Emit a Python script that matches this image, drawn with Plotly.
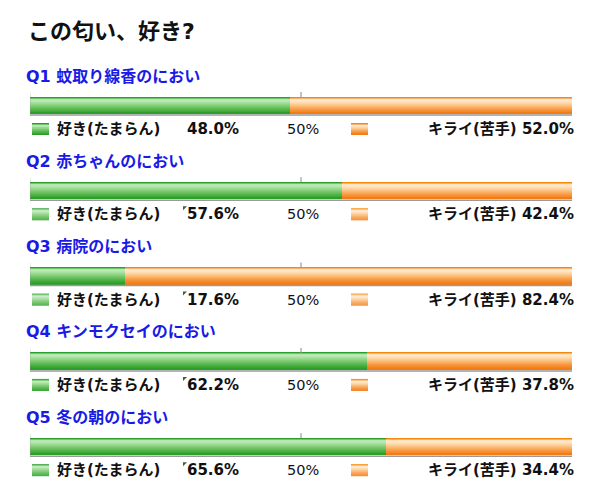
import plotly.graph_objects as go

# ---- data ----
chart_title = "この匂い、好き?"
questions = ["Q1 蚊取り線香のにおい", "Q2 赤ちゃんのにおい", "Q3 病院のにおい",
             "Q4 キンモクセイのにおい", "Q5 冬の朝のにおい"]
like = [48.0, 57.6, 17.6, 62.2, 65.6]
dislike = [52.0, 42.4, 82.4, 37.8, 34.4]
like_label = "好き(たまらん)"
dislike_label = "キライ(苦手)"
mid_tick_label = "50%"

# ---- layout constants (pixels) ----
W, H = 600, 504
X0, X1 = 30, 572          # pixel extent of the 0..100 scale
STEP = 85.3
BAR_C0 = 105              # center of first bar
BAR_H = 17
LABEL_Y0 = 76
LEGEND_Y0 = 129

FONT = "DejaVu Sans, Noto Sans CJK JP, sans-serif"

# vertical gradient profiles (top -> bottom), one colour per pixel row
green_prof = ["#2c9e2c", "#6ac866", "#b4e6ae", "#bde9b7", "#b4e5ad", "#a8e0a0", "#9cda93",
              "#90d486", "#84ce7a", "#78c86e", "#6cc262", "#60bc56", "#54b64a", "#4ab040",
              "#40aa38", "#36a430", "#2c9e2c"]
orange_prof = ["#f58a0a", "#fbb266", "#ffe3c2", "#ffe8cc", "#ffe3c0", "#ffdcb2", "#fed4a2",
               "#fdcb92", "#fcc282", "#fbb872", "#faae62", "#f9a452", "#f89a44", "#f79136",
               "#f6892a", "#f5821e", "#f47c14"]

n = len(questions)
centers = [BAR_C0 + STEP * i for i in range(n)]

fig = go.Figure()
for vals, bases, prof in ((like, [0] * n, green_prof), (dislike, like, orange_prof)):
    for r, col in enumerate(prof):
        fig.add_trace(go.Bar(orientation="h", y=centers, x=vals, base=bases,
                             offset=-BAR_H / 2 + r, width=BAR_H - r,
                             marker=dict(color=col, line=dict(width=0)),
                             hoverinfo="skip", showlegend=False))

shapes = []
annotations = []
frame_col = "#9a9a9a"

annotations.append(dict(text=f"<b>{chart_title}</b>", x=26 / W, xref="paper", y=31, yref="y",
                        xanchor="left", yanchor="middle", showarrow=False,
                        font=dict(family=FONT, size=22, color="#111111")))

for i in range(n):
    yc = centers[i]
    # frame
    shapes.append(dict(type="line", xref="x", yref="y", x0=-0.1, x1=-0.1, y0=yc - 12.5, y1=yc + 10,
                       line=dict(color=frame_col, width=1.5)))
    shapes.append(dict(type="line", xref="x", yref="y", x0=100.15, x1=100.15, y0=yc - 12.5, y1=yc + 10,
                       line=dict(color=frame_col, width=1.5)))
    shapes.append(dict(type="line", xref="x", yref="y", x0=-0.1, x1=100.15, y0=yc + 10, y1=yc + 10,
                       line=dict(color=frame_col, width=1.5)))
    shapes.append(dict(type="line", xref="x", yref="y", x0=50, x1=50, y0=yc - 13, y1=yc - 8,
                       line=dict(color=frame_col, width=1.2)))

    ly = LEGEND_Y0 + STEP * i
    # legend swatches (row-by-row gradient)
    for (sx0, sx1, prof) in ((32, 49, green_prof), (351, 368, orange_prof)):
        rows = 12
        for r in range(rows):
            col = prof[min(len(prof) - 1, round(r * (len(prof) - 1) / (rows - 1)))]
            shapes.append(dict(type="rect", xref="paper", yref="y", x0=sx0 / W, x1=sx1 / W,
                               y0=ly - 6 + r, y1=ly - 5 + r, fillcolor=col, line=dict(width=0),
                               layer="above"))
    if i > 0:
        # small stray mark seen in the reference before the percentage
        shapes.append(dict(type="path", xref="paper", yref="y",
                           path=f"M {183 / W} {ly - 8} L {187 / W} {ly - 8} L {183 / W} {ly - 4} Z",
                           fillcolor="#2e6b2e", line=dict(width=0)))

    annotations.append(dict(text=f"<b>{questions[i]}</b>", x=24 / W, xref="paper",
                            y=LABEL_Y0 + STEP * i, yref="y", xanchor="left", yanchor="middle",
                            showarrow=False, font=dict(family=FONT, size=16, color="#1a1ae6")))
    annotations.append(dict(text=f"<b>{like_label}</b>", x=55 / W, xref="paper", y=ly, yref="y",
                            xanchor="left", yanchor="middle", showarrow=False,
                            font=dict(family=FONT, size=15, color="#111111")))
    annotations.append(dict(text=f"<b>{like[i]:.1f}%</b>", x=185 / W, xref="paper", y=ly, yref="y",
                            xanchor="left", yanchor="middle", showarrow=False,
                            font=dict(family=FONT, size=15, color="#111111")))
    annotations.append(dict(text=mid_tick_label, x=50, xref="x", xshift=2, y=ly, yref="y",
                            xanchor="center", yanchor="middle", showarrow=False,
                            font=dict(family=FONT, size=14.5, color="#111122")))
    annotations.append(dict(text=f"<b>{dislike_label} {dislike[i]:.1f}%</b>", x=576 / W, xref="paper",
                            y=ly, yref="y", xanchor="right", yanchor="middle", showarrow=False,
                            font=dict(family=FONT, size=15, color="#111111")))

fig.update_layout(
    width=W, height=H, autosize=False,
    margin=dict(l=0, r=0, t=0, b=0, pad=0),
    paper_bgcolor="white", plot_bgcolor="white",
    barmode="overlay", bargap=0,
    xaxis=dict(range=[0, 100], domain=[X0 / W, X1 / W], visible=False, fixedrange=True),
    yaxis=dict(range=[H, 0], domain=[0, 1], visible=False, fixedrange=True),
    shapes=shapes, annotations=annotations, showlegend=False,
)

fig.write_html("out.html")
